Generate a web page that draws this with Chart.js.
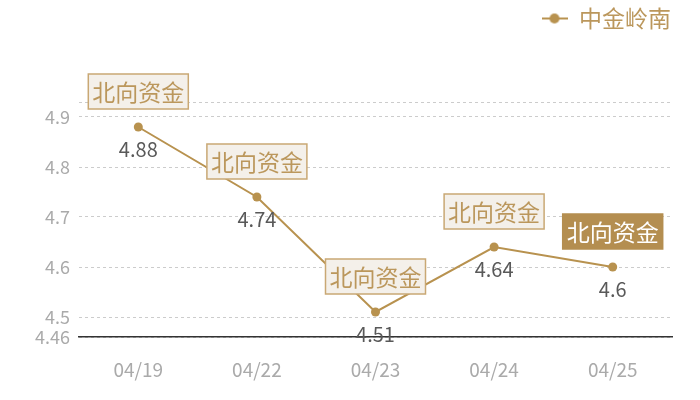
<!DOCTYPE html>
<html>
<head>
<meta charset="utf-8">
<script src="https://cdn.jsdelivr.net/npm/chart.js@4/dist/chart.umd.min.js"></script>
<style>
  html,body{margin:0;padding:0;background:#fff;}
  #wrap{width:700px;height:400px;}
</style>
</head>
<body>
<div id="wrap"><canvas id="c" width="700" height="400"></canvas></div>
<script>
const categories = ['04/19', '04/22', '04/23', '04/24', '04/25'];
const values = [4.88, 4.74, 4.51, 4.64, 4.6];
const yTicks = [4.46, 4.5, 4.6, 4.7, 4.8, 4.9, 4.93];
const hiddenTick = 4.93;
const seriesName = '中金岭南';
const annotationText = '北向资金';
const highlightIndex = 4;

const GOLD = '#b8924f';
const FONT = '"Noto Sans CJK SC", "Noto Sans", sans-serif';

// legend icon: short line with a dot
const icon = document.createElement('canvas');
icon.width = 26; icon.height = 12;
(function(){
  const g = icon.getContext('2d');
  g.strokeStyle = GOLD; g.lineWidth = 2;
  g.beginPath(); g.moveTo(0, 6); g.lineTo(26, 6); g.stroke();
  g.fillStyle = GOLD;
  g.beginPath(); g.arc(13, 6, 5, 0, Math.PI * 2); g.fill();
})();

const legendSpace = {
  id: 'legendSpace',
  beforeInit(chart) {
    const orig = chart.legend.fit;
    chart.legend.fit = function() {
      orig.call(this);
      this.height = 102;
    };
  },
  afterLayout(chart) {
    chart.legend.left += 6;
    chart.legend.right += 6;
  }
};

const labelsPlugin = {
  id: 'labelsPlugin',
  afterDatasetsDraw(chart) {
    const ctx = chart.ctx;
    const meta = chart.getDatasetMeta(0);
    ctx.save();
    meta.data.forEach((pt, i) => {
      const x = pt.x, y = pt.y;
      // value label below the point
      ctx.font = '20px ' + FONT;
      ctx.fillStyle = '#595959';
      ctx.textAlign = 'center';
      ctx.textBaseline = 'middle';
      ctx.fillText(String(chart.data.datasets[0].data[i]), x, y + 22);
      // annotation box above the point
      const w = 100, h = 35;
      const bx = x - w / 2, by = y - 18 - h;
      const hi = i === highlightIndex;
      ctx.fillStyle = hi ? '#b48e50' : '#f4f0ea';
      ctx.fillRect(bx, by, w, h);
      ctx.strokeStyle = hi ? '#b48e50' : '#c9a874';
      ctx.lineWidth = 1.5;
      ctx.strokeRect(bx, by, w, h);
      ctx.font = '23px ' + FONT;
      ctx.fillStyle = hi ? '#ffffff' : '#bb975c';
      ctx.fillText(annotationText, x, by + h / 2 + 1);
    });
    ctx.restore();
  }
};

new Chart(document.getElementById('c'), {
  type: 'line',
  data: {
    labels: categories,
    datasets: [{
      label: seriesName,
      data: values,
      borderColor: GOLD,
      backgroundColor: GOLD,
      borderWidth: 2,
      pointRadius: 4.5,
      pointHoverRadius: 4.5,
      pointBackgroundColor: GOLD,
      pointBorderWidth: 0,
      pointStyle: 'circle',
      tension: 0
    }]
  },
  options: {
    responsive: false,
    animation: false,
    devicePixelRatio: 1,
    layout: { padding: { left: 0, right: 28, top: 0, bottom: 12 } },
    plugins: {
      legend: {
        position: 'top',
        align: 'end',
        labels: {
          usePointStyle: true,
          pointStyle: icon,
          pointStyleWidth: 26,
          boxHeight: 22,
          padding: 7,
          color: '#bb975c',
          font: { size: 23, family: FONT }
        }
      },
      tooltip: { enabled: false }
    },
    scales: {
      x: {
        offset: true,
        afterFit(scale) { scale.height = 51; },
        grid: { display: false, drawTicks: false },
        border: { display: true, color: '#333333', width: 1.5 },
        ticks: { color: '#aaaaaa', font: { size: 19, family: FONT }, padding: 21 }
      },
      y: {
        min: 4.46,
        max: 4.93,
        afterBuildTicks(scale) {
          scale.ticks = yTicks.map(v => ({ value: v }));
        },
        afterFit(scale) { scale.width = 79; },
        grid: {
          color: '#cccccc',
          lineWidth: 1,
          drawTicks: false
        },
        border: { display: false, dash: [3, 3] },
        ticks: {
          color: '#aaaaaa',
          padding: 9,
          font: { size: 18, family: FONT },
          callback(v) { return Math.abs(v - hiddenTick) < 1e-6 ? '' : String(v); }
        }
      }
    }
  },
  plugins: [legendSpace, labelsPlugin]
});
</script>
</body>
</html>
